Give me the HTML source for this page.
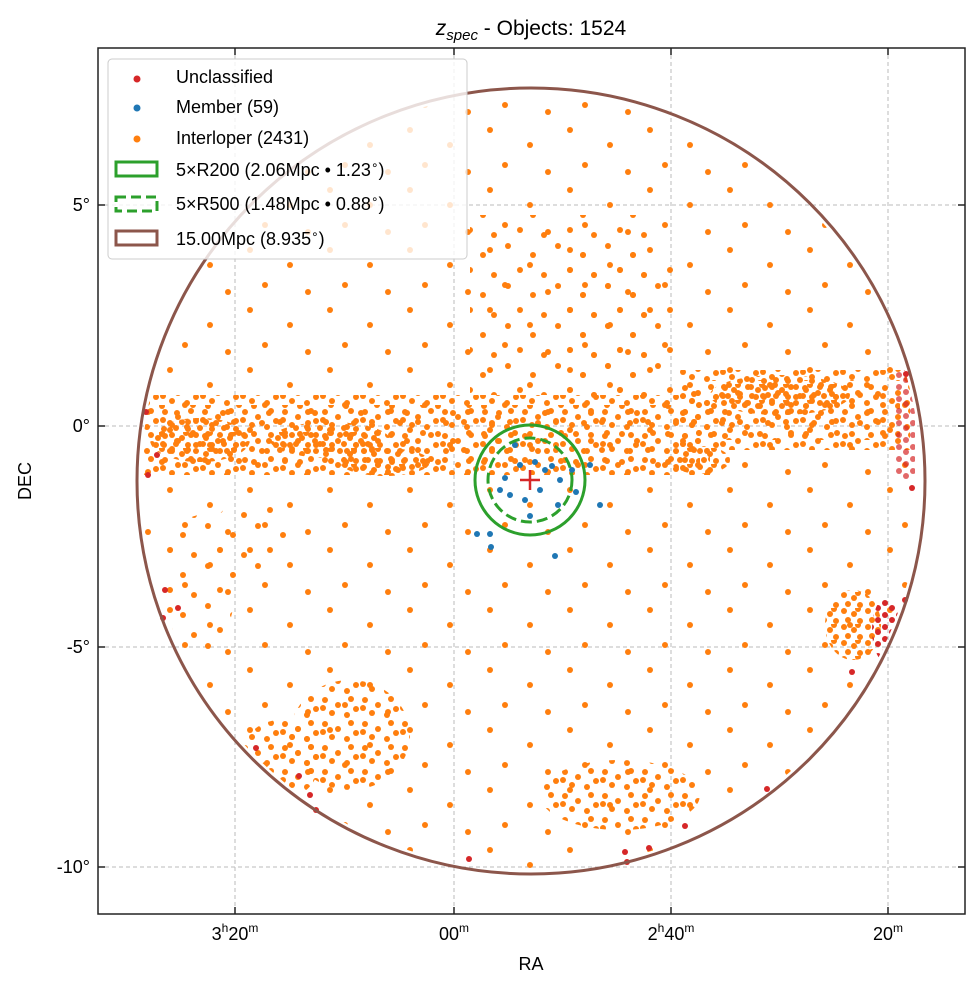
<!DOCTYPE html>
<html><head><meta charset="utf-8"><style>
html,body{margin:0;padding:0;background:#fff;}
svg{display:block;font-family:"Liberation Sans","DejaVu Sans",sans-serif;}
</style></head><body>
<svg width="979" height="989" viewBox="0 0 979 989" xmlns="http://www.w3.org/2000/svg">
<defs>
<pattern id="pA" width="40" height="24" patternUnits="userSpaceOnUse">
<g fill="#ff7f0e"><circle cx="5" cy="4" r="3"/><circle cx="18" cy="9" r="3"/><circle cx="31" cy="3" r="3"/><circle cx="12" cy="17" r="3"/><circle cx="27" cy="19" r="3"/><circle cx="36" cy="13" r="3"/><circle cx="3" cy="12" r="3"/></g></pattern>
<pattern id="pA2" width="46" height="28" patternUnits="userSpaceOnUse" x="17" y="9">
<g fill="#ff7f0e"><circle cx="7" cy="5" r="3"/><circle cx="22" cy="12" r="3"/><circle cx="38" cy="4" r="3"/><circle cx="15" cy="22" r="3"/><circle cx="33" cy="21" r="3"/></g></pattern>
<pattern id="pC" width="24" height="16" patternUnits="userSpaceOnUse">
<g fill="#ff7f0e"><circle cx="4" cy="3" r="3"/><circle cx="14" cy="6" r="3"/><circle cx="20" cy="13" r="3"/><circle cx="8" cy="12" r="3"/><circle cx="18" cy="1" r="3"/></g></pattern>
<pattern id="pB" width="80" height="60" patternUnits="userSpaceOnUse">
<g fill="#ff7f0e"><circle cx="10" cy="10" r="3"/><circle cx="50" cy="25" r="3"/><circle cx="25" cy="45" r="3"/><circle cx="68" cy="52" r="3"/></g></pattern>
<pattern id="pM" width="50" height="40" patternUnits="userSpaceOnUse">
<g fill="#ff7f0e"><circle cx="8" cy="6" r="3"/><circle cx="33" cy="15" r="3"/><circle cx="20" cy="30" r="3"/><circle cx="44" cy="35" r="3"/></g></pattern>
<pattern id="pR" width="14" height="12" patternUnits="userSpaceOnUse">
<g fill="#d62728"><circle cx="3" cy="3" r="3"/><circle cx="10" cy="8" r="3"/></g></pattern>
<clipPath id="cc"><ellipse cx="531" cy="481" rx="390" ry="389"/></clipPath>
</defs>
<rect width="979" height="989" fill="#fff"/>
<g stroke="#bbb" stroke-width="1" stroke-dasharray="4,3">
<line x1="235" y1="48" x2="235" y2="914"/><line x1="454" y1="48" x2="454" y2="914"/>
<line x1="671" y1="48" x2="671" y2="914"/><line x1="888" y1="48" x2="888" y2="914"/>
<line x1="98" y1="205" x2="965" y2="205"/><line x1="98" y1="426" x2="965" y2="426"/>
<line x1="98" y1="647" x2="965" y2="647"/><line x1="98" y1="867" x2="965" y2="867"/>
</g>
<g clip-path="url(#cc)">
<rect x="130" y="90" width="800" height="790" fill="url(#pB)"/>
<rect x="140" y="395" width="570" height="80" fill="url(#pA)"/>
<rect x="150" y="405" width="550" height="60" fill="url(#pA2)"/>
<rect x="680" y="370" width="230" height="80" fill="url(#pA)"/>
<rect x="690" y="380" width="210" height="60" fill="url(#pA2)"/>
<rect x="470" y="215" width="180" height="180" fill="url(#pM)"/>
<rect x="560" y="250" width="120" height="150" fill="url(#pM)"/>
<ellipse cx="330" cy="440" rx="60" ry="18" fill="url(#pC)"/>
<ellipse cx="385" cy="462" rx="45" ry="14" fill="url(#pC)"/>
<ellipse cx="200" cy="440" rx="50" ry="22" fill="url(#pC)"/>
<ellipse cx="780" cy="395" rx="70" ry="20" fill="url(#pC)"/>
<ellipse cx="700" cy="460" rx="30" ry="14" fill="url(#pC)"/>
<ellipse cx="350" cy="735" rx="60" ry="55" fill="url(#pA)"/>
<ellipse cx="280" cy="760" rx="40" ry="40" fill="url(#pA)"/>
<ellipse cx="620" cy="795" rx="80" ry="35" fill="url(#pA)"/>
<ellipse cx="200" cy="585" rx="35" ry="70" fill="url(#pM)"/>
<ellipse cx="250" cy="540" rx="40" ry="40" fill="url(#pM)"/>
<ellipse cx="853" cy="625" rx="28" ry="35" fill="url(#pC)"/>
<ellipse cx="886" cy="630" rx="14" ry="32" fill="url(#pR)"/>
<rect x="895" y="370" width="20" height="110" fill="url(#pR)" opacity="0.7"/>
</g>
<g fill="#d62728">
<circle cx="146" cy="412" r="3"/><circle cx="157" cy="455" r="3"/><circle cx="148" cy="475" r="3"/><circle cx="165" cy="590" r="3"/><circle cx="178" cy="608" r="3"/><circle cx="163" cy="618" r="3"/>
<circle cx="256" cy="748" r="3"/><circle cx="299" cy="776" r="3"/><circle cx="310" cy="795" r="3"/><circle cx="316" cy="810" r="3"/>
<circle cx="469" cy="859" r="3"/><circle cx="627" cy="862" r="3"/><circle cx="625" cy="852" r="3"/><circle cx="649" cy="848" r="3"/><circle cx="685" cy="826" r="3"/><circle cx="767" cy="789" r="3"/>
<circle cx="906" cy="374" r="3"/><circle cx="912" cy="488" r="3"/><circle cx="905" cy="600" r="3"/><circle cx="852" cy="672" r="3"/>
</g>
<g fill="#1f77b4">
<circle cx="515" cy="445" r="3"/><circle cx="520" cy="465" r="3"/><circle cx="535" cy="462" r="3"/><circle cx="545" cy="470" r="3"/><circle cx="552" cy="466" r="3"/><circle cx="560" cy="480" r="3"/><circle cx="572" cy="470" r="3"/><circle cx="590" cy="465" r="3"/><circle cx="505" cy="478" r="3"/><circle cx="510" cy="495" r="3"/><circle cx="525" cy="500" r="3"/><circle cx="540" cy="490" r="3"/><circle cx="500" cy="490" r="3"/><circle cx="530" cy="516" r="3"/><circle cx="558" cy="505" r="3"/><circle cx="576" cy="492" r="3"/>
<circle cx="490" cy="534" r="3"/><circle cx="477" cy="534" r="3"/><circle cx="491" cy="547" r="3"/><circle cx="555" cy="556" r="3"/><circle cx="600" cy="505" r="3"/>
</g>
<ellipse cx="531" cy="481" rx="394" ry="393" fill="none" stroke="#8c564b" stroke-width="3"/>
<circle cx="530" cy="480" r="55" fill="none" stroke="#2ca02c" stroke-width="3"/>
<circle cx="530" cy="480" r="42" fill="none" stroke="#2ca02c" stroke-width="3" stroke-dasharray="11,5"/>
<g stroke="#d62728" stroke-width="2.5"><line x1="520" y1="480" x2="540" y2="480"/><line x1="530" y1="470" x2="530" y2="490"/></g>
<rect x="98" y="48" width="867" height="866" fill="none" stroke="#222" stroke-width="1.5"/>
<g stroke="#222" stroke-width="1.5">
<line x1="235" y1="48" x2="235" y2="55"/><line x1="454" y1="48" x2="454" y2="55"/><line x1="671" y1="48" x2="671" y2="55"/><line x1="888" y1="48" x2="888" y2="55"/>
<line x1="235" y1="914" x2="235" y2="907"/><line x1="454" y1="914" x2="454" y2="907"/><line x1="671" y1="914" x2="671" y2="907"/><line x1="888" y1="914" x2="888" y2="907"/>
<line x1="98" y1="205" x2="105" y2="205"/><line x1="98" y1="426" x2="105" y2="426"/><line x1="98" y1="647" x2="105" y2="647"/><line x1="98" y1="867" x2="105" y2="867"/>
<line x1="965" y1="205" x2="958" y2="205"/><line x1="965" y1="426" x2="958" y2="426"/><line x1="965" y1="647" x2="958" y2="647"/><line x1="965" y1="867" x2="958" y2="867"/>
</g>
<g font-size="18" fill="#000">
<text x="90" y="211" text-anchor="end">5°</text>
<text x="90" y="432" text-anchor="end">0°</text>
<text x="90" y="653" text-anchor="end">-5°</text>
<text x="90" y="873" text-anchor="end">-10°</text>
<text x="235" y="940" text-anchor="middle">3<tspan font-size="12" dy="-8">h</tspan><tspan dy="8">20</tspan><tspan font-size="12" dy="-8">m</tspan></text>
<text x="454" y="940" text-anchor="middle">00<tspan font-size="12" dy="-8">m</tspan></text>
<text x="671" y="940" text-anchor="middle">2<tspan font-size="12" dy="-8">h</tspan><tspan dy="8">40</tspan><tspan font-size="12" dy="-8">m</tspan></text>
<text x="888" y="940" text-anchor="middle">20<tspan font-size="12" dy="-8">m</tspan></text>
<text x="531" y="970" text-anchor="middle">RA</text>
<text x="31" y="481" text-anchor="middle" transform="rotate(-90 31 481)">DEC</text>
<text x="531" y="35" text-anchor="middle" font-size="21"><tspan font-style="italic">z</tspan><tspan font-style="italic" font-size="15" dy="5">spec</tspan><tspan dy="-5"> - Objects: 1524</tspan></text>
</g>
<g>
<rect x="108" y="59" width="359" height="200" rx="4" fill="#fff" fill-opacity="0.8" stroke="#ccc" stroke-width="1"/>
<circle cx="137" cy="79" r="3.5" fill="#d62728"/>
<circle cx="137" cy="108" r="3.5" fill="#1f77b4"/>
<circle cx="137" cy="139" r="3.5" fill="#ff7f0e"/>
<rect x="116" y="162" width="41" height="14" fill="none" stroke="#2ca02c" stroke-width="3"/>
<rect x="116" y="197" width="41" height="14" fill="none" stroke="#2ca02c" stroke-width="3" stroke-dasharray="10,5"/>
<rect x="116" y="231" width="41" height="14" fill="none" stroke="#8c564b" stroke-width="3"/>
<g font-size="18" fill="#000">
<text x="176" y="83">Unclassified</text>
<text x="176" y="113">Member (59)</text>
<text x="176" y="144">Interloper (2431)</text>
<text x="176" y="176">5×R200 (2.06Mpc • 1.23<tspan font-size="12" dy="-7">∘</tspan><tspan dy="7">)</tspan></text>
<text x="176" y="210">5×R500 (1.48Mpc • 0.88<tspan font-size="12" dy="-7">∘</tspan><tspan dy="7">)</tspan></text>
<text x="176" y="245">15.00Mpc (8.935<tspan font-size="12" dy="-7">∘</tspan><tspan dy="7">)</tspan></text>
</g>
</g>
</svg>
</body></html>
